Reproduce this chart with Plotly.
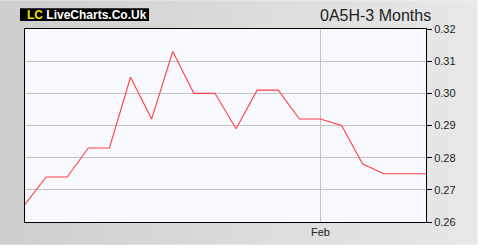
import plotly.graph_objects as go

# Data
values = [0.2655, 0.274, 0.274, 0.283, 0.283, 0.305, 0.292, 0.313, 0.300, 0.300,
          0.289, 0.301, 0.301, 0.292, 0.292, 0.290, 0.278, 0.275, 0.275, 0.275]
x_idx = list(range(len(values)))
month_tick_idx = [14]
month_tick_text = ["Feb"]
y_ticks = [0.26, 0.27, 0.28, 0.29, 0.30, 0.31, 0.32]
title_text = "0A5H-3 Months"

W, H = 480, 250
L, R, T, B = 25, 54, 29, 26
pw, ph = W - L - R, H - T - B

def px2x(px):
    return (px - L) / pw

def py2y(py):
    return (H - B - py) / ph

fig = go.Figure()
fig.add_trace(go.Scatter(x=x_idx, y=values, mode="lines",
                         line=dict(color="#ff4040", width=1.1), hoverinfo="skip"))

shapes = []
# gradient background via strips
n = 40
c0, c1 = 0xcf, 0xe8
for i in range(n):
    x0 = i * 477 / n
    x1 = (i + 1) * 477 / n + 0.5
    c = int(c0 + (c1 - c0) * i / (n - 1))
    col = f"rgb({c},{c},{c})"
    shapes.append(dict(type="rect", xref="paper", yref="paper",
                       x0=px2x(x0), x1=px2x(x1), y0=py2y(247), y1=py2y(0),
                       fillcolor=col, line=dict(width=0), layer="below"))
# plot area background
shapes.append(dict(type="rect", xref="paper", yref="paper", x0=0, x1=1, y0=0, y1=1,
                   fillcolor="#f8f9ff", line=dict(width=0), layer="below"))
# logo box
shapes.append(dict(type="rect", xref="paper", yref="paper",
                   x0=px2x(20), x1=px2x(149), y0=py2y(21), y1=py2y(8),
                   fillcolor="black", line=dict(width=0)))

annotations = [
    dict(text="<b><span style='color:#f0e000'>LC</span> LiveCharts.Co.Uk</b>",
         xref="paper", yref="paper", x=px2x(25), y=py2y(14.5), xanchor="left",
         yanchor="middle", showarrow=False,
         font=dict(family="Liberation Sans, Arial", size=12, color="white")),
    dict(text=title_text, xref="paper", yref="paper", x=px2x(433), y=py2y(15),
         xanchor="right", yanchor="middle", showarrow=False,
         font=dict(family="Liberation Sans, Arial", size=16, color="#222222")),
]

fig.update_layout(
    width=W, height=H,
    margin=dict(l=L, r=R, t=T, b=B),
    paper_bgcolor="white",
    plot_bgcolor="#f8f9ff",
    showlegend=False,
    shapes=shapes,
    annotations=annotations,
    xaxis=dict(range=[0, len(values) - 1], tickvals=month_tick_idx,
               ticktext=month_tick_text, showgrid=True, gridcolor="#c4c4c4",
               gridwidth=1, zeroline=False, showline=True, linecolor="black",
               linewidth=1, mirror=True, ticks="", ticklen=0,
               tickfont=dict(family="Liberation Sans, Arial", size=11, color="#222222")),
    yaxis=dict(range=[0.26, 0.32], tickvals=y_ticks,
               ticktext=[f"{v:.2f}" for v in y_ticks], side="right",
               showgrid=True, gridcolor="#c4c4c4", gridwidth=1, zeroline=False,
               showline=True, linecolor="black", linewidth=1, mirror=True,
               ticks="outside", ticklen=5, tickcolor="black",
               tickfont=dict(family="Liberation Sans, Arial", size=11, color="#222222")),
)

fig.write_html("out.html")
